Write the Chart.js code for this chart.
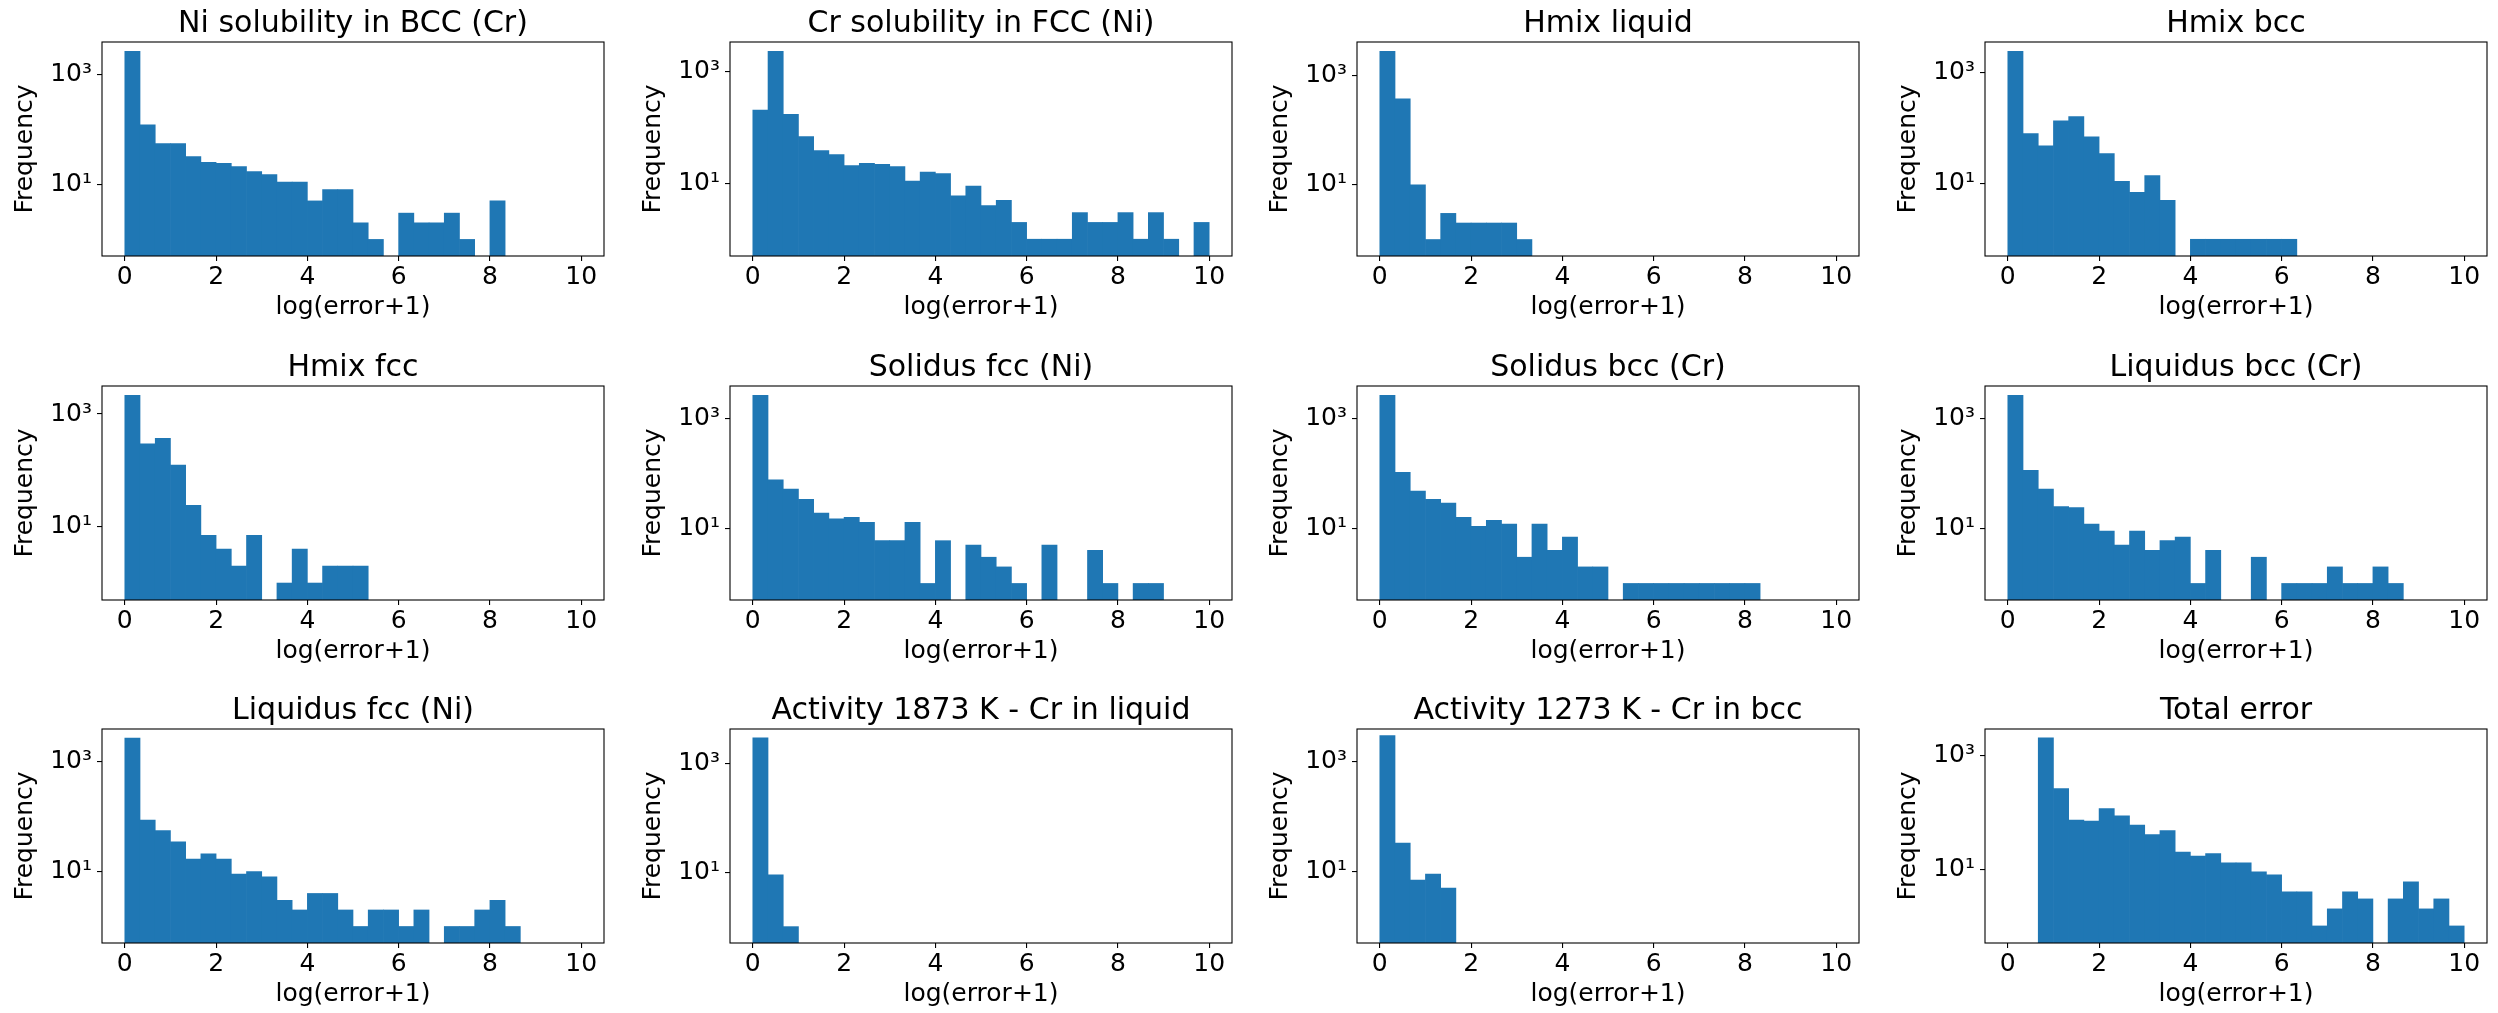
<!DOCTYPE html>
<html>
<head>
<meta charset="utf-8">
<title>Error histograms</title>
<script src="https://cdn.jsdelivr.net/npm/chart.js@4.4.1/dist/chart.umd.min.js"></script>
<style>
  html, body { margin: 0; padding: 0; background: #fff; }
  body { width: 2498px; height: 1013px; position: relative; overflow: hidden; }
  canvas { position: absolute; }
</style>
</head>
<body>
<script>
// 30 bins on 0..10
const binEdges = [0, 0.3333, 0.6667, 1, 1.3333, 1.6667, 2, 2.3333, 2.6667, 3, 3.3333, 3.6667, 4, 4.3333, 4.6667,
  5, 5.3333, 5.6667, 6, 6.3333, 6.6667, 7, 7.3333, 7.6667, 8, 8.3333, 8.6667, 9, 9.3333, 9.6667, 10];

const titles = ['Ni solubility in BCC (Cr)', 'Cr solubility in FCC (Ni)', 'Hmix liquid', 'Hmix bcc',
  'Hmix fcc', 'Solidus fcc (Ni)', 'Solidus bcc (Cr)', 'Liquidus bcc (Cr)',
  'Liquidus fcc (Ni)', 'Activity 1873 K - Cr in liquid', 'Activity 1273 K - Cr in bcc', 'Total error'];

const niSolBcc = [2594, 120, 55, 55, 32, 25, 24, 21, 17, 15, 11, 11, 5, 8, 8, 2, 1, 0, 3, 2, 2, 3, 1, 0, 5, 0, 0, 0, 0, 0];
const crSolFcc = [207, 2340, 173, 69, 39, 33, 21, 23, 22, 20, 11, 16, 15, 6, 9, 4, 5, 2, 1, 1, 1, 3, 2, 2, 3, 1, 3, 1, 0, 2];
const hmixLiquid = [2730, 371, 10, 1, 3, 2, 2, 2, 2, 1, 0, 0, 0, 0, 0, 0, 0, 0, 0, 0, 0, 0, 0, 0, 0, 0, 0, 0, 0, 0];
const hmixBcc = [2415, 80, 48, 136, 162, 70, 35, 11, 7, 14, 5, 0, 1, 1, 1, 1, 1, 1, 1, 0, 0, 0, 0, 0, 0, 0, 0, 0, 0, 0];
const hmixFcc = [2145, 297, 370, 124, 24, 7, 4, 2, 7, 0, 1, 4, 1, 2, 2, 2, 0, 0, 0, 0, 0, 0, 0, 0, 0, 0, 0, 0, 0, 0];
const solidusFcc = [2650, 77, 52, 34, 19, 15, 16, 13, 6, 6, 13, 1, 6, 0, 5, 3, 2, 1, 0, 5, 0, 0, 4, 1, 0, 1, 1, 0, 0, 0];
const solidusBcc = [2650, 105, 48, 34, 29, 16, 11, 14, 12, 3, 12, 4, 7, 2, 2, 0, 1, 1, 1, 1, 1, 1, 1, 1, 1, 0, 0, 0, 0, 0];
const liquidusBcc = [2650, 114, 52, 25, 24, 12, 9, 5, 9, 4, 6, 7, 1, 4, 0, 0, 3, 0, 1, 1, 1, 2, 1, 1, 2, 1, 0, 0, 0, 0];
const liquidusFcc = [2730, 87, 56, 35, 17, 21, 17, 9, 10, 8, 3, 2, 4, 4, 2, 1, 2, 2, 1, 2, 0, 1, 1, 2, 3, 1, 0, 0, 0, 0];
const activityLiquid = [2950, 9, 1, 0, 0, 0, 0, 0, 0, 0, 0, 0, 0, 0, 0, 0, 0, 0, 0, 0, 0, 0, 0, 0, 0, 0, 0, 0, 0, 0];
const activityBcc = [3010, 33, 7, 9, 5, 0, 0, 0, 0, 0, 0, 0, 0, 0, 0, 0, 0, 0, 0, 0, 0, 0, 0, 0, 0, 0, 0, 0, 0, 0];
const totalError = [0, 0, 2075, 266, 74, 71, 118, 88, 60, 41, 48, 20, 17, 19, 13, 13, 9, 8, 4, 4, 1, 2, 4, 3, 0, 3, 6, 2, 3, 1];

const seriesList = [niSolBcc, crSolFcc, hmixLiquid, hmixBcc, hmixFcc, solidusFcc,
  solidusBcc, liquidusBcc, liquidusFcc, activityLiquid, activityBcc, totalError];

const yMin = 0.5;
const yMax = [3828, 3436, 4036, 3556, 3141, 3908, 3908, 3908, 3981, 4305, 3981, 2985];
const xTicks = [0, 2, 4, 6, 8, 10];
const yTicks = [10, 1000];
const yTickLabels = ['10\u00b9', '10\u00b3'];

// layout of the 3x4 grid (plot area boxes)
const colLeft = [102, 730, 1357, 1985];
const rowTop = [42, 386, 729];
const plotW = 502, plotH = 214;
const padL = 100, padR = 30, padT = 44, padB = 72;

Chart.defaults.font.family = "'DejaVu Sans', sans-serif";
Chart.defaults.color = '#000';

// full box around the plot area, like matplotlib spines
const frame = {
  id: 'frame',
  afterDatasetsDraw(chart) {
    const a = chart.chartArea;
    const ctx = chart.ctx;
    ctx.save();
    ctx.strokeStyle = '#000';
    ctx.lineWidth = 1.1;
    ctx.strokeRect(a.left, a.top, a.right - a.left, a.bottom - a.top);
    ctx.restore();
  }
};

function renderHistogram(idx) {
  const row = Math.floor(idx / 4), col = idx % 4;
  const canvas = document.createElement('canvas');
  canvas.width = padL + plotW + padR;
  canvas.height = padT + plotH + padB;
  canvas.style.left = (colLeft[col] - padL) + 'px';
  canvas.style.top = (rowTop[row] - padT) + 'px';
  document.body.appendChild(canvas);

  const points = seriesList[idx].map((count, i) => ({
    x: (binEdges[i] + binEdges[i + 1]) / 2,
    y: count > 0 ? count : null
  }));

  const tickGrid = {
    drawOnChartArea: false,
    drawTicks: true,
    tickLength: 5,
    color: '#000',
    lineWidth: 1.1,
    offset: false
  };

  new Chart(canvas, {
    type: 'bar',
    data: {
      datasets: [{
        label: titles[idx],
        data: points,
        backgroundColor: '#1f77b4',
        borderWidth: 0,
        barPercentage: 1,
        categoryPercentage: 1
      }]
    },
    options: {
      responsive: false,
      animation: false,
      layout: { padding: { left: 0, right: padR, top: 0, bottom: 0 } },
      plugins: {
        legend: { display: false },
        tooltip: { enabled: false },
        title: {
          display: true,
          text: titles[idx],
          fullSize: false,
          color: '#000',
          font: { size: 30, weight: 'normal', lineHeight: '36px' },
          padding: { top: 8, bottom: 0 }
        }
      },
      scales: {
        x: {
          type: 'linear',
          min: -0.5,
          max: 10.5,
          offset: false,
          grid: tickGrid,
          border: { display: false },
          ticks: { font: { size: 25 }, padding: 1.5, maxRotation: 0, autoSkip: false, color: '#000' },
          title: {
            display: true,
            text: 'log(error+1)',
            color: '#000',
            font: { size: 25, lineHeight: '30px' },
            padding: { top: 0, bottom: 5.7 }
          },
          afterBuildTicks: s => { s.ticks = xTicks.map(v => ({ value: v })); },
          afterFit: s => { s.height = padB; }
        },
        y: {
          type: 'logarithmic',
          min: yMin,
          max: yMax[idx],
          grid: tickGrid,
          border: { display: false },
          ticks: {
            font: { size: 25 },
            padding: 5,
            autoSkip: false,
            color: '#000',
            callback: v => {
              const k = yTicks.indexOf(v);
              return k >= 0 ? yTickLabels[k] : '';
            }
          },
          title: {
            display: true,
            text: 'Frequency',
            color: '#000',
            font: { size: 25, lineHeight: '30px' },
            padding: { top: 8.2, bottom: 0 }
          },
          afterBuildTicks: s => { s.ticks = yTicks.map(v => ({ value: v })); },
          afterFit: s => { s.width = padL; }
        }
      }
    },
    plugins: [frame]
  });
}

document.addEventListener('DOMContentLoaded', () => {
  for (let i = 0; i < titles.length; i++) renderHistogram(i);
});
</script>
</body>
</html>
